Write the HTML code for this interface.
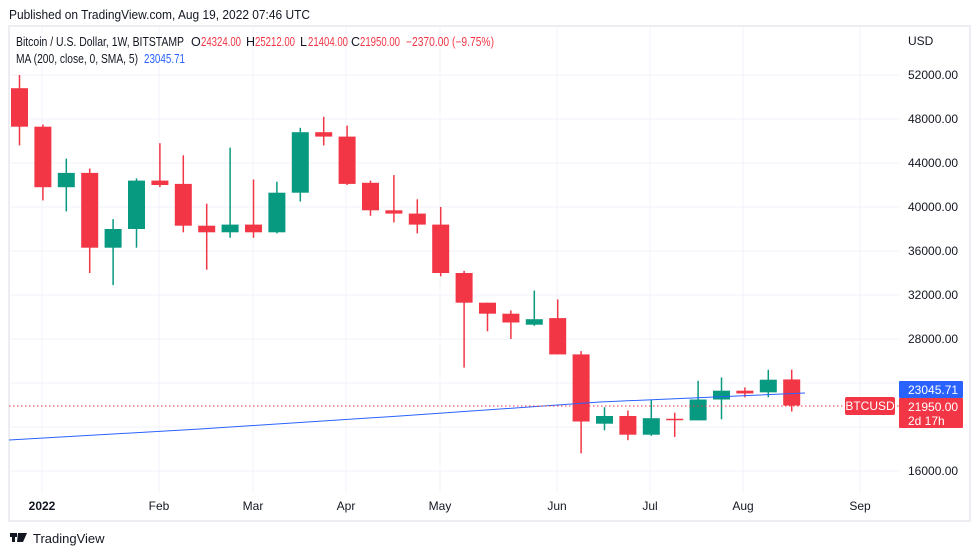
<!DOCTYPE html>
<html><head><meta charset="utf-8"><style>
body{margin:0;background:#fff;width:979px;height:555px;overflow:hidden;font-family:"Liberation Sans",sans-serif}
</style></head><body>
<svg id="s" width="979" height="555" xmlns="http://www.w3.org/2000/svg" font-family="Liberation Sans, sans-serif">
<rect width="979" height="555" fill="#fff"/>
<text x="9" y="19" font-size="12.5" fill="#131722" textLength="301" lengthAdjust="spacingAndGlyphs">Published on TradingView.com, Aug 19, 2022 07:46 UTC</text>
<rect x="9" y="26" width="961" height="495" fill="none" stroke="#eceef2" stroke-width="2"/>
<g id="grid" stroke="#f0f3fa" stroke-width="1"></g>
<g id="c"></g>
<polyline points="9,440 200,429 400,416 600,402 805,393" fill="none" stroke="#2962ff" stroke-width="1"/>
<line x1="9" y1="406" x2="899" y2="406" stroke="#f23645" stroke-dasharray="1.5,2.5"/>
<g id="lab" font-size="12" fill="#131722"></g>
<text x="908" y="45" font-size="12" fill="#131722">USD</text>
<g font-size="12.5" fill="#f23645" lengthAdjust="spacingAndGlyphs">
<text x="16" y="46" fill="#131722" textLength="168" lengthAdjust="spacingAndGlyphs">Bitcoin / U.S. Dollar, 1W, BITSTAMP</text>
<text x="191" y="46" fill="#131722">O</text><text x="201" y="46" textLength="40" lengthAdjust="spacingAndGlyphs">24324.00</text>
<text x="246" y="46" fill="#131722">H</text><text x="255" y="46" textLength="40" lengthAdjust="spacingAndGlyphs">25212.00</text>
<text x="300" y="46" fill="#131722">L</text><text x="308" y="46" textLength="40" lengthAdjust="spacingAndGlyphs">21404.00</text>
<text x="351" y="46" fill="#131722">C</text><text x="360" y="46" textLength="40" lengthAdjust="spacingAndGlyphs">21950.00</text>
<text x="406" y="46" textLength="88" lengthAdjust="spacingAndGlyphs">−2370.00 (−9.75%)</text>
<text x="16" y="63" fill="#131722" textLength="122" lengthAdjust="spacingAndGlyphs">MA (200, close, 0, SMA, 5)</text>
<text x="144" y="63" fill="#2962ff" textLength="41" lengthAdjust="spacingAndGlyphs">23045.71</text>
</g>
<rect x="845" y="397" width="50" height="18" rx="2" fill="#f23645"/>
<text x="870" y="410" font-size="12" fill="#fff" text-anchor="middle">BTCUSD</text>
<rect x="899" y="381" width="64" height="17" rx="1" fill="#2962ff"/>
<text x="908" y="394" font-size="12" fill="#fff">23045.71</text>
<rect x="899" y="398" width="64" height="30" rx="1" fill="#f23645"/>
<text x="908" y="411" font-size="12" fill="#fff">21950.00</text>
<text x="908" y="425" font-size="12" fill="#fff">2d 17h</text>
<g font-size="12" fill="#131722" text-anchor="middle">
<text x="42" y="510" font-weight="bold">2022</text>
<text x="159" y="510">Feb</text><text x="253" y="510">Mar</text><text x="346" y="510">Apr</text>
<text x="440" y="510">May</text><text x="557" y="510">Jun</text><text x="650" y="510">Jul</text>
<text x="743" y="510">Aug</text><text x="860" y="510">Sep</text>
</g>
<g fill="#131722"><rect x="10" y="533" width="7" height="4"/><rect x="12" y="533" width="3" height="9"/><path d="M18 533h5l-3 9h-3z"/><path d="M22 533h5l-4 9h-3z"/></g>
<text x="33" y="543" font-size="13" fill="#131722">TradingView</text>
</svg>
<script>
const Y=p=>75+(52000-p)*0.011;
const g=document.getElementById('grid'),c=document.getElementById('c'),lab=document.getElementById('lab');
let h='';
for(let p=16000;p<=52000;p+=4000){h+=`<line x1="10" y1="${Y(p)}" x2="899" y2="${Y(p)}"/>`;
 if(p!=24000&&p!=20000) lab.innerHTML+=`<text x="908" y="${Y(p)+4}">${p}.00</text>`;}
[42,159,253,346,440,557,650,743,860].forEach(x=>h+=`<line x1="${x}" y1="27" x2="${x}" y2="493"/>`);
g.innerHTML=h;
const d=[[50800,52000,45600,47300],[47300,47500,40600,41800],[41800,44400,39600,43100],[43100,43500,34000,36300],[36300,38900,32900,38000],[38000,42600,36300,42400],[42400,45800,41800,42000],[42100,44700,37700,38300],[38300,40300,34300,37700],[37700,45400,37200,38400],[38400,42500,37200,37700],[37700,42300,37600,41300],[41300,47200,40500,46800],[46800,48200,45600,46400],[46400,47400,42000,42100],[42200,42400,39200,39700],[39700,42900,38600,39400],[39400,40700,37600,38400],[38400,40000,33700,34000],[34000,34200,25400,31300],[31300,31300,28700,30300],[30300,30600,28000,29500],[29300,32400,29200,29800],[29900,31600,26600,26600],[26600,26900,17600,20500],[20300,21800,19700,21000],[21000,21500,18800,19300],[19300,22500,19200,20800],[20750,21300,19100,20650],[20600,24200,20700,22500],[22500,24500,20700,23300],[23300,23600,22700,23050],[23150,25200,22700,24300],[24324,25212,21404,21950]];
let s='';
d.forEach((k,i)=>{const x=19.5+i*23.4,[o,hi,l,cl]=k,col=cl>=o?'#089981':'#f23645';
 const t=Y(Math.max(o,cl)),b=Y(Math.min(o,cl));
 s+=`<line x1="${x}" y1="${Y(hi)}" x2="${x}" y2="${Y(l)}" stroke="${col}" stroke-width="1.5"/><rect x="${x-8.5}" y="${t}" width="17" height="${Math.max(b-t,1.5)}" fill="${col}"/>`;});
c.innerHTML=s;
</script>
</body></html>
